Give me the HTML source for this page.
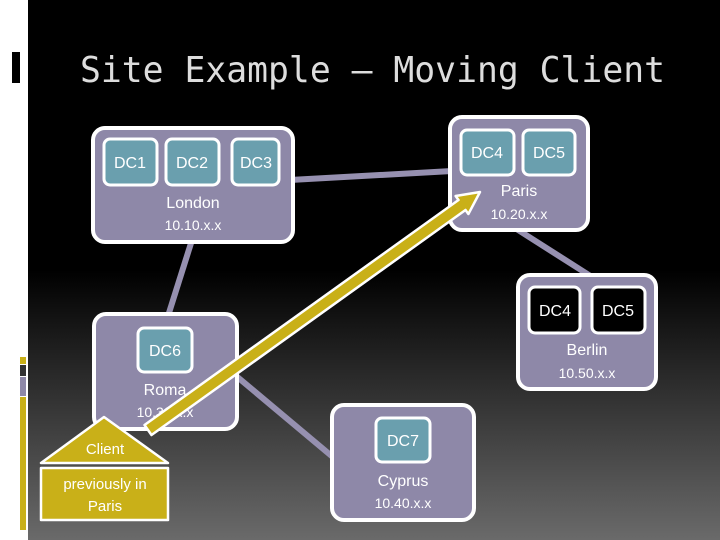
<!DOCTYPE html>
<html><head><meta charset="utf-8"><style>
html,body{margin:0;padding:0;width:720px;height:540px;overflow:hidden;background:#fff}
text{font-family:"Liberation Sans",sans-serif;fill:#fff}
</style></head><body>
<svg width="720" height="540" viewBox="0 0 720 540" xmlns="http://www.w3.org/2000/svg">
<defs>
<linearGradient id="bg" x1="0" y1="0" x2="0" y2="1">
<stop offset="0" stop-color="#000"/><stop offset="0.5" stop-color="#000"/><stop offset="1" stop-color="#6a6a6a"/>
</linearGradient>
</defs>
<rect x="0" y="0" width="720" height="540" fill="#fff"/>
<rect x="28" y="0" width="692" height="540" fill="url(#bg)"/>
<rect x="12" y="52" width="8" height="31" fill="#000"/>
<rect x="20" y="357" width="6" height="7" fill="#c9b018"/>
<rect x="20" y="365" width="6" height="11" fill="#333"/>
<rect x="20" y="377" width="6" height="19" fill="#8e88a8"/>
<rect x="20" y="397" width="6" height="133" fill="#c9b018"/>
<text x="80" y="82" textLength="585" lengthAdjust="spacingAndGlyphs" style="font-family:'DejaVu Sans Mono',monospace;font-size:36px;fill:#ddd">Site Example – Moving Client</text>
<g stroke="#9690b0" stroke-width="6">
<line x1="290" y1="180" x2="452" y2="171"/>
<line x1="192" y1="240" x2="168" y2="316"/>
<line x1="515" y1="228" x2="592" y2="277"/>
<line x1="235" y1="375" x2="334" y2="458"/>
</g>
<g stroke="#fff" stroke-width="4" fill="#8e88a8">
<rect x="93" y="128" width="200" height="114" rx="12"/>
<rect x="450" y="117" width="138" height="113" rx="12"/>
<rect x="518" y="275" width="138" height="114" rx="12"/>
<rect x="94" y="314" width="143" height="115" rx="12"/>
<rect x="332" y="405" width="142" height="115" rx="12"/>
</g>
<g stroke="#fff" stroke-width="3" fill="#6a9fae">
<rect x="104" y="139" width="53" height="46" rx="6"/>
<rect x="166" y="139" width="53" height="46" rx="6"/>
<rect x="232" y="139" width="47" height="46" rx="6"/>
<rect x="461" y="130" width="53" height="45" rx="6"/>
<rect x="523" y="130" width="52" height="45" rx="6"/>
<rect x="529" y="287" width="51" height="46" rx="6" fill="#000"/>
<rect x="592" y="287" width="53" height="46" rx="6" fill="#000"/>
<rect x="138" y="328" width="54" height="44" rx="6"/>
<rect x="376" y="418" width="54" height="44" rx="6"/>
</g>
<g font-size="16" text-anchor="middle">
<text x="130" y="168">DC1</text><text x="192" y="168">DC2</text><text x="256" y="168">DC3</text>
<text x="487" y="158">DC4</text><text x="549" y="158">DC5</text>
<text x="555" y="316">DC4</text><text x="618" y="316">DC5</text>
<text x="165" y="356">DC6</text><text x="403" y="446">DC7</text>
<text x="193" y="208">London</text><text x="193" y="230" font-size="14">10.10.x.x</text>
<text x="519" y="196">Paris</text><text x="519" y="219" font-size="14">10.20.x.x</text>
<text x="587" y="355">Berlin</text><text x="587" y="378" font-size="14">10.50.x.x</text>
<text x="165" y="395">Roma</text><text x="165" y="417" font-size="14">10.30.x.x</text>
<text x="403" y="486">Cyprus</text><text x="403" y="508" font-size="14">10.40.x.x</text>
</g>
<g stroke="#fff" stroke-width="2.5" fill="#c9b018" stroke-linejoin="round">
<polygon points="144.5,425 458.5,200 455.6,196 480,192 468.4,214 465.5,210 151.5,435"/>
<polygon points="104,417 41,463 168,463"/>
<rect x="41" y="468" width="127" height="52"/>
</g>
<g font-size="15" text-anchor="middle">
<text x="105" y="454">Client</text>
<text x="105" y="489">previously in</text>
<text x="105" y="511">Paris</text>
</g>
</svg>
</body></html>
